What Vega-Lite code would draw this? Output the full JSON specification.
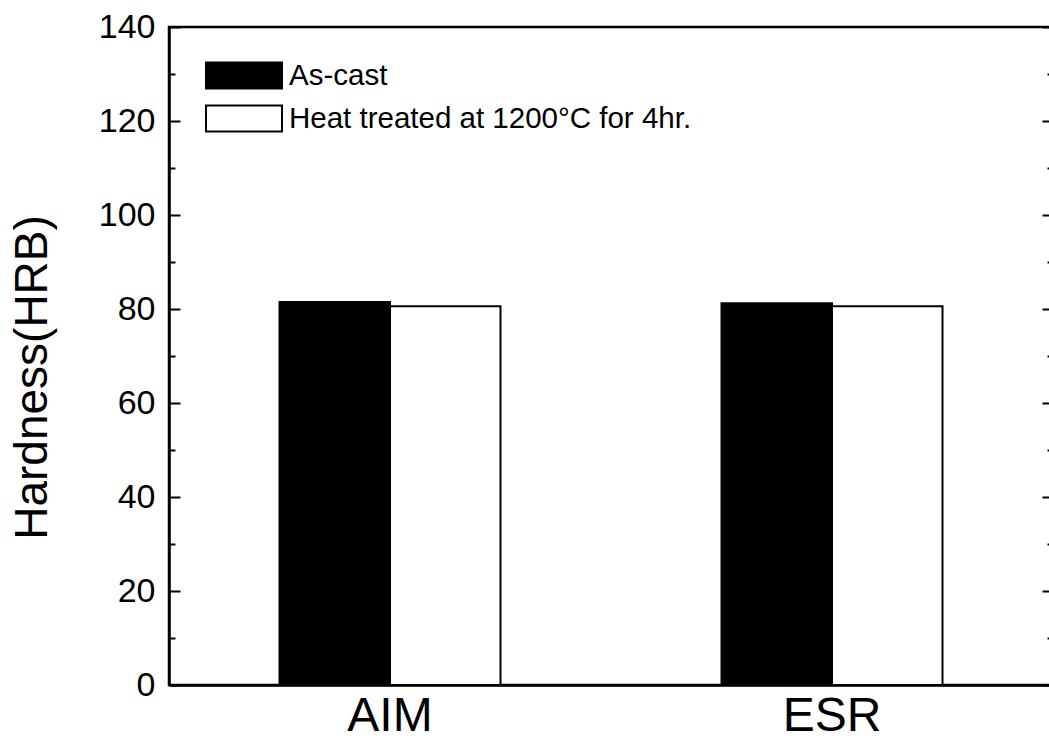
{
  "$schema": "https://vega.github.io/schema/vega-lite/v6.json",
  "autosize": {"type": "none"},
  "padding": {"left": 169, "top": 27, "right": 10, "bottom": 58},
  "width": 884,
  "height": 658,
  "background": "white",
  "config": {
    "font": "Liberation Sans",
    "view": {"stroke": "black", "strokeWidth": 2.5},
    "axis": {"domainColor": "black", "domainWidth": 2.5, "tickColor": "black", "tickWidth": 2, "labelColor": "black", "titleColor": "black", "grid": false}
  },
  "data": {
    "values": [
      {"alloy": "AIM", "cond": "As-cast", "hardness": 81.5},
      {"alloy": "AIM", "cond": "Heat treated at 1200°C for 4hr.", "hardness": 80.6},
      {"alloy": "ESR", "cond": "As-cast", "hardness": 81.2},
      {"alloy": "ESR", "cond": "Heat treated at 1200°C for 4hr.", "hardness": 80.6}
    ]
  },
  "encoding": {
    "x": {
      "field": "alloy", "type": "nominal", "sort": ["AIM", "ESR"],
      "scale": {"paddingInner": 0.5, "paddingOuter": 0.25},
      "axis": {"title": null, "labelAngle": 0, "ticks": false, "labelFontSize": 48, "labelPadding": 7, "domainWidth": 2.5}
    },
    "xOffset": {"field": "cond", "type": "nominal", "sort": ["As-cast", "Heat treated at 1200°C for 4hr."], "scale": {"paddingInner": 0, "paddingOuter": 0}},
    "y": {
      "field": "hardness", "type": "quantitative",
      "scale": {"domain": [0, 140], "nice": false, "zero": true}
    }
  },
  "layer": [
    {
      "mark": {"type": "bar", "stroke": "black", "strokeWidth": 2},
      "encoding": {
        "fill": {
          "field": "cond", "type": "nominal",
          "sort": ["As-cast", "Heat treated at 1200°C for 4hr."],
          "scale": {"range": ["black", "white"]},
          "legend": {
            "title": null, "orient": "none", "legendX": 36, "legendY": 27,
            "symbolType": "M-1,-0.34H1V0.34H-1Z", "symbolSize": 5776,
            "symbolStrokeColor": "black", "symbolStrokeWidth": 2,
            "labelFontSize": 29.5, "labelColor": "black", "labelOffset": 6,
            "clipHeight": 43, "rowPadding": 0, "labelLimit": 700
          }
        },
        "y": {
          "field": "hardness", "type": "quantitative",
          "axis": {
            "orient": "left",
            "title": "Hardness(HRB)", "titleFontSize": 46, "titleFontWeight": "normal",
            "titlePadding": 42, "titleY": 350,
            "values": [0, 20, 40, 60, 80, 100, 120, 140],
            "ticks": false,
            "labelFontSize": 34, "labelPadding": 14
          }
        }
      }
    },
    {
      "mark": {"type": "bar", "fillOpacity": 0, "strokeOpacity": 0},
      "encoding": {
        "y": {
          "field": "hardness", "type": "quantitative",
          "axis": {
            "orient": "right", "offset": -884, "title": null, "labels": false, "domain": false,
            "values": [0, 10, 20, 30, 40, 50, 60, 70, 80, 90, 100, 110, 120, 130, 140],
            "tickSize": {"condition": {"test": "datum.value % 20 == 0", "value": 11}, "value": 6}
          }
        }
      }
    },
    {
      "mark": {"type": "bar", "fillOpacity": 0, "strokeOpacity": 0},
      "encoding": {
        "y": {
          "field": "hardness", "type": "quantitative",
          "axis": {
            "orient": "left", "offset": -884, "title": null, "labels": false, "domain": false,
            "values": [0, 10, 20, 30, 40, 50, 60, 70, 80, 90, 100, 110, 120, 130, 140],
            "tickSize": {"condition": {"test": "datum.value % 20 == 0", "value": 11}, "value": 6}
          }
        }
      }
    }
  ]
}
